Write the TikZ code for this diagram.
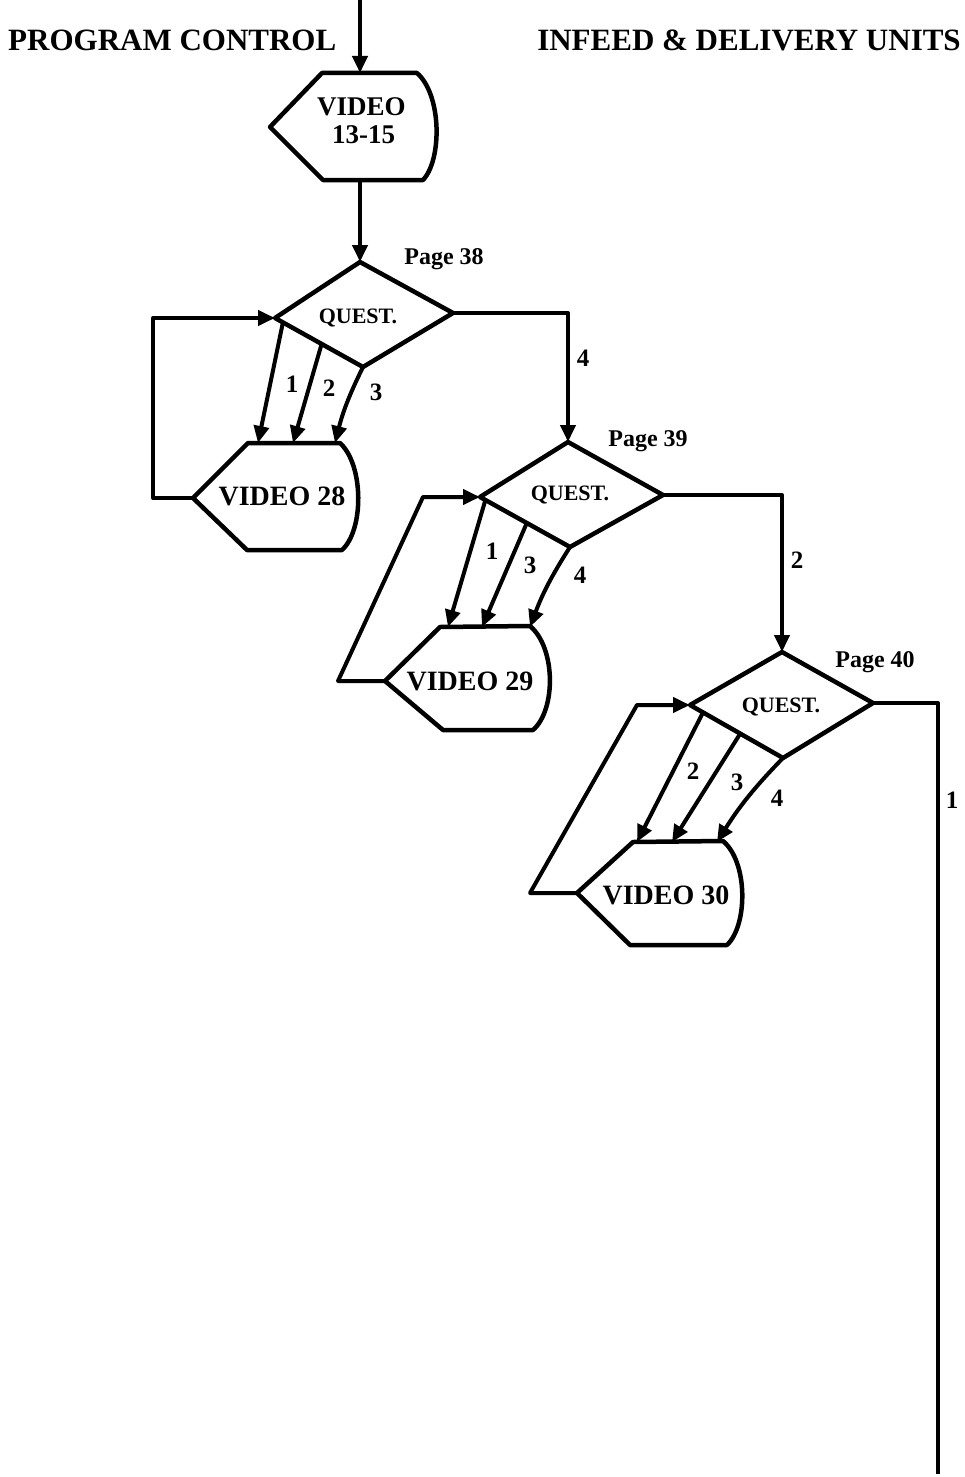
\documentclass[tikz,border=0pt]{standalone}
\usepackage{fontspec}
\setmainfont{Liberation Serif}
\usetikzlibrary{arrows.meta,calc}
\begin{document}
\begin{tikzpicture}[x=1pt,y=-1pt,
  shp/.style={line width=4.5pt,line join=round},
  arr/.style={line width=4pt,line join=round,-{Triangle[length=17pt,width=15pt]}},
  ln/.style={line width=4pt,line join=round},
  lbl/.style={font=\bfseries\fontsize{22}{24}\selectfont,inner sep=0pt},
  num/.style={font=\bfseries\fontsize{25}{27}\selectfont,inner sep=0pt},
  ttl/.style={font=\bfseries\fontsize{31}{33}\selectfont,inner sep=0pt},
  vid/.style={font=\bfseries\fontsize{28}{30}\selectfont,inner sep=0pt},
  pg/.style={font=\bfseries\fontsize{24}{26}\selectfont,inner sep=0pt}]
\useasboundingbox (0,0) rectangle (965,1477);

% titles
\node[ttl,anchor=west] (t1) at (8,40) {PROGRAM CONTROL};
\node[ttl,anchor=east] (t2) at (961,40) {INFEED \& DELIVERY UNITS};

% ---- Video 13-15
\coordinate (v1L) at (270,127);
\coordinate (v1TL) at (322,73);
\coordinate (v1TR) at (417,73);
\coordinate (v1BR) at (423,180);
\coordinate (v1BL) at (323,180);
\coordinate (v1t) at (360,73);
\coordinate (v1b) at (360,180);
\draw[shp] (v1L) -- (v1TL) -- (v1TR) .. controls (442,95) and (442,160) .. (v1BR) -- (v1BL) -- cycle;
\node[font=\bfseries\fontsize{27}{28}\selectfont,align=left,inner sep=0pt,anchor=west] (v1) at (317,121) {VIDEO\\\hspace*{15pt}13-15};

\coordinate (start) at (360,0);
\draw[arr] (start) -- (v1t);

% ---- Diamond 1
\coordinate (d1T) at (360,262);
\coordinate (d1L) at (275,318);
\coordinate (d1R) at (453,313);
\coordinate (d1B) at (363,367);
\draw[shp] (d1T) -- (d1R) -- (d1B) -- (d1L) -- cycle;
\node[lbl] (q1) at (358,318) {QUEST.};
\node[pg] (p38) at (444,259) {Page 38};
\draw[arr] (v1b) -- (d1T);

% ---- Video 28
\coordinate (v28L) at (193,498);
\coordinate (v28TL) at (248,443);
\coordinate (v28TR) at (340,443);
\coordinate (v28BR) at (342,550);
\coordinate (v28BL) at (247,550);
\draw[shp] (v28L) -- (v28TL) -- (v28TR) .. controls (364,465) and (364,530) .. (v28BR) -- (v28BL) -- cycle;
\node[vid] (v28) at (282,496) {VIDEO 28};
\coordinate (e28a) at (258,443);
\coordinate (e28b) at (293,443);
\coordinate (e28c) at (335,443);
\draw[arr] ($(d1L)!0.09!(d1B)$) -- (e28a);
\draw[arr] ($(d1L)!0.53!(d1B)$) -- (e28b);
\draw[arr] (d1B) to[bend right=6] (e28c);
\node[num] (n1a) at (292,384) {1};
\node[num] (n1b) at (329,388) {2};
\node[num] (n1c) at (376,392) {3};
\coordinate (lp1) at (153,498);
\draw[arr] (v28L) -- (lp1) |- (d1L);

% ---- Diamond 2
\coordinate (d2T) at (568,442);
\coordinate (d2L) at (480,497);
\coordinate (d2R) at (663,495);
\coordinate (d2B) at (570,547);
\draw[shp] (d2T) -- (d2R) -- (d2B) -- (d2L) -- cycle;
\node[lbl] (q2) at (570,495) {QUEST.};
\node[pg] (p39) at (648,441) {Page 39};
\draw[arr] (d1R) -| (d2T);
\node[num] (n4) at (583,358) {4};

% ---- Video 29
\coordinate (v29L) at (385,681);
\coordinate (v29TL) at (440,627);
\coordinate (v29TR) at (530,626);
\coordinate (v29BR) at (533,730);
\coordinate (v29BL) at (443,730);
\draw[shp] (v29L) -- (v29TL) -- (v29TR) .. controls (556,648) and (556,710) .. (v29BR) -- (v29BL) -- cycle;
\node[vid] (v29) at (470,681) {VIDEO 29};
\coordinate (e29a) at (448,627);
\coordinate (e29b) at (482,627);
\coordinate (e29c) at (530,627);
\draw[arr] ($(d2L)!0.06!(d2B)$) -- (e29a);
\draw[arr] ($(d2L)!0.52!(d2B)$) -- (e29b);
\draw[arr] (d2B) to[bend right=6] (e29c);
\node[num] (n2a) at (492,551) {1};
\node[num] (n2b) at (530,565) {3};
\node[num] (n2c) at (580,575) {4};
\coordinate (lp2a) at (338,681);
\coordinate (lp2b) at (423,497);
\draw[arr] (v29L) -- (lp2a) -- (lp2b) -- (d2L);

% ---- Diamond 3
\coordinate (d3T) at (782,652);
\coordinate (d3L) at (690,705);
\coordinate (d3R) at (873,703);
\coordinate (d3B) at (783,758);
\draw[shp] (d3T) -- (d3R) -- (d3B) -- (d3L) -- cycle;
\node[lbl] (q3) at (781,707) {QUEST.};
\node[pg] (p40) at (875,662) {Page 40};
\draw[arr] (d2R) -| (d3T);
\node[num] (n2) at (797,560) {2};

% ---- Video 30
\coordinate (v30L) at (577,893);
\coordinate (v30TL) at (633,842);
\coordinate (v30TR) at (723,841);
\coordinate (v30BR) at (727,945);
\coordinate (v30BL) at (630,945);
\draw[shp] (v30L) -- (v30TL) -- (v30TR) .. controls (748,862) and (748,925) .. (v30BR) -- (v30BL) -- cycle;
\node[vid] (v30) at (666,895) {VIDEO 30};
\coordinate (e30a) at (637,842);
\coordinate (e30b) at (672,842);
\coordinate (e30c) at (717,842);
\draw[arr] ($(d3L)!0.14!(d3B)$) -- (e30a);
\draw[arr] ($(d3L)!0.54!(d3B)$) -- (e30b);
\draw[arr] (d3B) to[bend right=6] (e30c);
\node[num] (n3a) at (693,771) {2};
\node[num] (n3b) at (737,782) {3};
\node[num] (n3c) at (777,798) {4};
\coordinate (lp3a) at (530,893);
\coordinate (lp3b) at (637,705);
\draw[arr] (v30L) -- (lp3a) -- (lp3b) -- (d3L);

% ---- exit 1
\coordinate (exit) at (938,1474);
\draw[ln] (d3R) -| (exit);
\node[num] (n1) at (952,800) {1};
\end{tikzpicture}
\end{document}
